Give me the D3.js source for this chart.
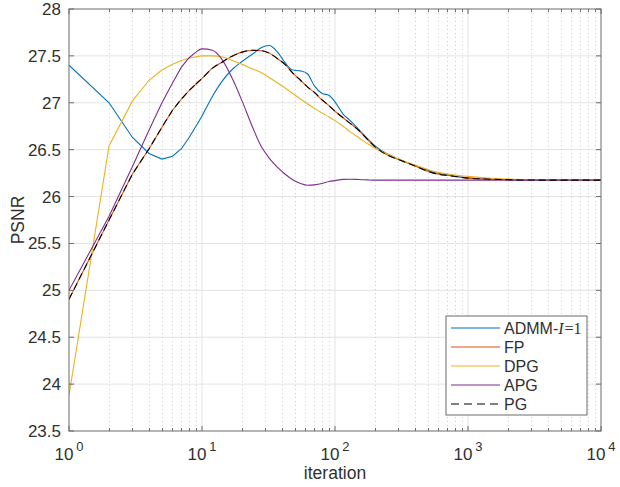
<!DOCTYPE html>
<html>
<head>
<meta charset="utf-8">
<script src="https://cdn.jsdelivr.net/npm/d3@7"></script>
<style>
  html, body { margin: 0; padding: 0; background: #fff; }
  svg { display: block; font-family: "Liberation Sans", Arial, Helvetica, sans-serif; }
</style>
</head>
<body>
<svg id="chart" width="620" height="487"></svg>
<script>
// ---------------- data ----------------
const iterations = [1,2,3,4,5,6,7,8,9,10,12,14,17,20,24,28,32,37,42,48,55,62,70,80,90,100,115,130,150,175,200,250,300,400,550,750,1000,1500,2500,5000,10000];

const admm = [27.40,27.00,26.63,26.46,26.40,26.43,26.51,26.63,26.75,26.86,27.07,27.22,27.36,27.44,27.52,27.59,27.61,27.54,27.43,27.35,27.34,27.31,27.18,27.10,27.08,27.01,26.88,26.81,26.72,26.62,26.54,26.45,26.40,26.33,26.26,26.225,26.20,26.185,26.177,26.175,26.175];

const fp = [24.905,25.75,26.24,26.51,26.74,26.92,27.04,27.13,27.20,27.26,27.37,27.43,27.50,27.54,27.56,27.555,27.53,27.47,27.41,27.32,27.24,27.17,27.11,27.03,26.97,26.91,26.84,26.78,26.71,26.61,26.53,26.44,26.395,26.325,26.25,26.22,26.197,26.185,26.177,26.175,26.175];

const dpg = [23.88,26.54,27.02,27.24,27.35,27.41,27.45,27.475,27.49,27.50,27.50,27.49,27.45,27.41,27.36,27.32,27.27,27.21,27.16,27.10,27.04,26.99,26.94,26.89,26.85,26.81,26.75,26.69,26.63,26.565,26.515,26.45,26.40,26.335,26.27,26.235,26.215,26.195,26.182,26.176,26.175];

const apg = [25.00,25.79,26.32,26.71,27.00,27.21,27.38,27.48,27.54,27.575,27.56,27.47,27.25,27.02,26.74,26.53,26.41,26.31,26.24,26.18,26.14,26.12,26.125,26.14,26.16,26.17,26.183,26.185,26.182,26.178,26.175,26.175,26.175,26.175,26.175,26.175,26.175,26.175,26.175,26.175,26.175];

const pg = fp.slice();

const seriesNames = ["ADMM", "FP", "DPG", "APG", "PG"];
const seriesValues = [admm, fp, dpg, apg, pg];
const seriesColors = ["#0072BD", "#D95319", "#EDB120", "#7E2F8E", "#000000"];

const yTicks = [23.5,24,24.5,25,25.5,26,26.5,27,27.5,28];
const xMajorTicks = [1,10,100,1000,10000];
const xExponents = ["0","1","2","3","4"];
const xLabel = "iteration";
const yLabel = "PSNR";

// ---------------- layout ----------------
const L = 69, R = 601, T = 9, B = 431;
const svg = d3.select("#chart");

const x = d3.scaleLog().domain([1, 10000]).range([L, R]);
const y = d3.scaleLinear().domain([23.5, 28]).range([B, T]);

const axisCol = "#6b6b6b";
const textCol = "#303030";
const fs = 17;

// minor x ticks
const xMinor = [];
for (let d = 1; d < 10000; d *= 10) for (let k = 2; k <= 9; k++) xMinor.push(d * k);

// grid
const grid = svg.append("g");
grid.selectAll(".ym").data(yTicks.slice(1, -1)).join("line")
  .attr("x1", L).attr("x2", R).attr("y1", d => y(d)).attr("y2", d => y(d))
  .attr("stroke", "#e3e3e3").attr("stroke-width", 1);
grid.selectAll(".xmi").data(xMinor).join("line")
  .attr("x1", d => Math.round(x(d)) + 0.5).attr("x2", d => Math.round(x(d)) + 0.5)
  .attr("y1", T).attr("y2", B)
  .attr("stroke", "#cfcfcf").attr("stroke-width", 1).attr("stroke-dasharray", "1,3");
grid.selectAll(".xm").data(xMajorTicks.slice(1, -1)).join("line")
  .attr("x1", d => x(d)).attr("x2", d => x(d)).attr("y1", T).attr("y2", B)
  .attr("stroke", "#e3e3e3").attr("stroke-width", 1);

// clip
svg.append("clipPath").attr("id", "clip").append("rect")
  .attr("x", L).attr("y", T).attr("width", R - L).attr("height", B - T);

// lines: straight segments for first integer iterations, smooth afterwards
const lineLin = d3.line().x(d => x(d[0])).y(d => y(d[1])).curve(d3.curveLinear);
const lineSm = d3.line().x(d => x(d[0])).y(d => y(d[1])).curve(d3.curveMonotoneX);

const plot = svg.append("g").attr("clip-path", "url(#clip)");
seriesValues.forEach((vals, i) => {
  const pts = iterations.map((it, j) => [it, vals[j]]);
  const early = pts.filter(p => p[0] <= 9);
  const late = pts.filter(p => p[0] >= 9);
  const dash = seriesNames[i] === "PG" ? "7,4" : null;
  const g = plot.append("g");
  g.append("path").attr("d", lineLin(early)).attr("fill", "none")
    .attr("stroke", seriesColors[i]).attr("stroke-width", 1.1).attr("stroke-dasharray", dash);
  g.append("path").attr("d", lineSm(late)).attr("fill", "none")
    .attr("stroke", seriesColors[i]).attr("stroke-width", 1.1).attr("stroke-dasharray", dash);
});

// axes box
svg.append("rect").attr("x", L).attr("y", T).attr("width", R - L).attr("height", B - T)
  .attr("fill", "none").attr("stroke", axisCol).attr("stroke-width", 1);

// ticks (inward)
const tk = svg.append("g").attr("stroke", axisCol).attr("stroke-width", 1);
yTicks.forEach(v => {
  tk.append("line").attr("x1", L).attr("x2", L + 5).attr("y1", y(v)).attr("y2", y(v));
  tk.append("line").attr("x1", R).attr("x2", R - 5).attr("y1", y(v)).attr("y2", y(v));
});
xMajorTicks.forEach(v => {
  tk.append("line").attr("x1", x(v)).attr("x2", x(v)).attr("y1", B).attr("y2", B - 5);
  tk.append("line").attr("x1", x(v)).attr("x2", x(v)).attr("y1", T).attr("y2", T + 5);
});
xMinor.forEach(v => {
  const xx = Math.round(x(v)) + 0.5;
  tk.append("line").attr("x1", xx).attr("x2", xx).attr("y1", B).attr("y2", B - 3);
  tk.append("line").attr("x1", xx).attr("x2", xx).attr("y1", T).attr("y2", T + 3);
});

// y tick labels
svg.append("g").selectAll("text").data(yTicks).join("text")
  .attr("x", L - 8).attr("y", d => y(d) + 6)
  .attr("text-anchor", "end").attr("font-size", fs).attr("fill", textCol)
  .text(d => d);

// x tick labels
const xl = svg.append("g");
xMajorTicks.forEach((v, i) => {
  const t = xl.append("text").attr("x", x(v)).attr("y", 460)
    .attr("text-anchor", "middle").attr("font-size", fs).attr("fill", textCol);
  t.append("tspan").text("10");
  t.append("tspan").attr("dy", -9).attr("dx", 3).attr("font-size", 13).text(xExponents[i]);
});

// axis labels
svg.append("text").attr("x", (L + R) / 2).attr("y", 479).attr("text-anchor", "middle")
  .attr("font-size", 17.5).attr("fill", textCol).text(xLabel);
svg.append("text").attr("transform", `translate(24,${(T + B) / 2}) rotate(-90)`)
  .attr("text-anchor", "middle").attr("font-size", 17.5).attr("fill", textCol).text(yLabel);

// legend
const lg = svg.append("g");
const lx = 446, ly = 316, lw = 141, lh = 99;
lg.append("rect").attr("x", lx).attr("y", ly).attr("width", lw).attr("height", lh)
  .attr("fill", "#fff").attr("stroke", axisCol).attr("stroke-width", 1);
const rowY = i => 328 + i * 19;
seriesNames.forEach((name, i) => {
  lg.append("line").attr("x1", 451).attr("x2", 500).attr("y1", rowY(i)).attr("y2", rowY(i))
    .attr("stroke", seriesColors[i]).attr("stroke-width", 1.1)
    .attr("stroke-dasharray", name === "PG" ? "8,5" : null);
  const t = lg.append("text").attr("x", 504).attr("y", rowY(i) + 6)
    .attr("font-size", 16).attr("fill", textCol);
  if (name === "ADMM") {
    t.append("tspan").text("ADMM-");
    t.append("tspan").attr("font-family", "'Liberation Serif', 'DejaVu Serif', serif")
      .attr("font-style", "italic").text("I");
    t.append("tspan").attr("font-family", "'Liberation Serif', 'DejaVu Serif', serif")
      .attr("dx", 1).text("=1");
  } else {
    t.text(name);
  }
});
</script>
</body>
</html>
